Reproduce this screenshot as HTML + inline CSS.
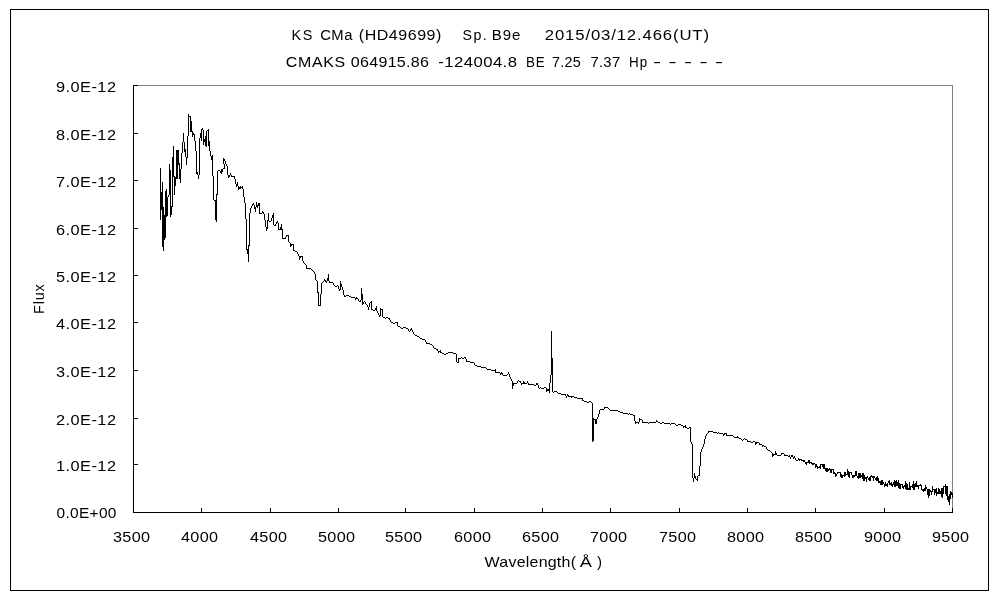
<!DOCTYPE html>
<html lang="ja"><head><meta charset="utf-8"><title>KS CMa spectrum</title>
<style>
html,body{margin:0;padding:0;background:#fff}
svg{display:block}
text{font-family:'Liberation Sans','IPAGothic',sans-serif;font-size:15.2px;fill:#000}
</style></head><body>
<svg width="1000" height="600" viewBox="0 0 1000 600">
<rect width="1000" height="600" fill="#fff"/>
<rect x="10.5" y="9.5" width="978" height="581" fill="#fff" stroke="#000" stroke-width="1" shape-rendering="crispEdges"/>
<path d="M138 85.5H952.5V508" fill="none" stroke="#808080" stroke-width="1" shape-rendering="crispEdges"/>
<path d="M133.5 85V512.5H953M133 512.5h5M133 464.5h5M133 418.5h5M133 370.5h5M133 322.5h5M133 275.5h5M133 228.5h5M133 180.5h5M133 133.5h5M133 85.5h5M133.5 513v-5M201.5 513v-5M270.5 513v-5M338.5 513v-5M405.5 513v-5M474.5 513v-5M542.5 513v-5M610.5 513v-5M679.5 513v-5M747.5 513v-5M815.5 513v-5M884.5 513v-5M952.5 513v-5" fill="none" stroke="#000" stroke-width="1" shape-rendering="crispEdges"/>
<text transform="translate(56.6 518) scale(1.017 1)" textLength="58.80" lengthAdjust="spacing">0.0E+00</text>
<text transform="translate(56 470.5) scale(1.076 1)" textLength="55.76" lengthAdjust="spacing">1.0E-12</text>
<text transform="translate(56 424.5) scale(1.076 1)" textLength="55.76" lengthAdjust="spacing">2.0E-12</text>
<text transform="translate(56 376.5) scale(1.076 1)" textLength="55.76" lengthAdjust="spacing">3.0E-12</text>
<text transform="translate(56 328.5) scale(1.076 1)" textLength="55.76" lengthAdjust="spacing">4.0E-12</text>
<text transform="translate(56 281.5) scale(1.076 1)" textLength="55.76" lengthAdjust="spacing">5.0E-12</text>
<text transform="translate(56 234.5) scale(1.076 1)" textLength="55.76" lengthAdjust="spacing">6.0E-12</text>
<text transform="translate(56 186.5) scale(1.076 1)" textLength="55.76" lengthAdjust="spacing">7.0E-12</text>
<text transform="translate(56 139.5) scale(1.076 1)" textLength="55.76" lengthAdjust="spacing">8.0E-12</text>
<text transform="translate(56 92) scale(1.076 1)" textLength="55.76" lengthAdjust="spacing">9.0E-12</text>
<text transform="translate(112.9 541.9) scale(1.068 1)" textLength="34.83" lengthAdjust="spacing">3500</text>
<text transform="translate(180.9 541.9) scale(1.068 1)" textLength="34.83" lengthAdjust="spacing">4000</text>
<text transform="translate(249.9 541.9) scale(1.068 1)" textLength="34.83" lengthAdjust="spacing">4500</text>
<text transform="translate(317.9 541.9) scale(1.068 1)" textLength="34.83" lengthAdjust="spacing">5000</text>
<text transform="translate(384.9 541.9) scale(1.068 1)" textLength="34.83" lengthAdjust="spacing">5500</text>
<text transform="translate(453.9 541.9) scale(1.068 1)" textLength="34.83" lengthAdjust="spacing">6000</text>
<text transform="translate(521.9 541.9) scale(1.068 1)" textLength="34.83" lengthAdjust="spacing">6500</text>
<text transform="translate(589.9 541.9) scale(1.068 1)" textLength="34.83" lengthAdjust="spacing">7000</text>
<text transform="translate(658.9 541.9) scale(1.068 1)" textLength="34.83" lengthAdjust="spacing">7500</text>
<text transform="translate(726.9 541.9) scale(1.068 1)" textLength="34.83" lengthAdjust="spacing">8000</text>
<text transform="translate(794.9 541.9) scale(1.068 1)" textLength="34.83" lengthAdjust="spacing">8500</text>
<text transform="translate(863.9 541.9) scale(1.068 1)" textLength="34.83" lengthAdjust="spacing">9000</text>
<text transform="translate(931.9 541.9) scale(1.068 1)" textLength="34.83" lengthAdjust="spacing">9500</text>
<text transform="translate(291.6 39.8) scale(0.948 1)" textLength="21.94" lengthAdjust="spacing">KS</text>
<text transform="translate(320.2 39.8) scale(0.974 1)" textLength="33.06" lengthAdjust="spacing">CMa</text>
<text transform="translate(358.8 39.8) scale(1.052 1)" textLength="78.52" lengthAdjust="spacing">(HD49699)</text>
<text transform="translate(462.6 39.8) scale(0.936 1)" textLength="25.64" lengthAdjust="spacing">Sp.</text>
<text transform="translate(491.8 39.8) scale(0.99 1)" textLength="28.89" lengthAdjust="spacing">B9e</text>
<text transform="translate(544.8 39.8) scale(1.1 1)" textLength="149.27" lengthAdjust="spacing">2015/03/12.466(UT)</text>
<text transform="translate(285.8 66.8) scale(1.049 1)" textLength="56.63" lengthAdjust="spacing" xml:space="preserve">CMAKS</text>
<text transform="translate(350.8 66.8) scale(1.057 1)" textLength="73.98" lengthAdjust="spacing" xml:space="preserve">064915.86</text>
<text transform="translate(438.2 66.8) scale(1.1 1)" textLength="71.64" lengthAdjust="spacing" xml:space="preserve">-124004.8</text>
<text transform="translate(526 66.8) scale(0.88 1)" textLength="21.14" lengthAdjust="spacing" xml:space="preserve">BE</text>
<text transform="translate(552 66.8) scale(0.945 1)" textLength="30.48" lengthAdjust="spacing" xml:space="preserve">7.25</text>
<text transform="translate(590.4 66.8) scale(0.978 1)" textLength="30.47" lengthAdjust="spacing" xml:space="preserve">7.37</text>
<text transform="translate(629 66.8) scale(0.88 1)" textLength="20.68" lengthAdjust="spacing" xml:space="preserve">Hp</text>
<text transform="translate(653 66.8) scale(1.6 1)" textLength="43.75" lengthAdjust="spacing" xml:space="preserve">- - - - -</text>
<text transform="translate(484.6 566.8) scale(1.052 1)" textLength="86.88" lengthAdjust="spacing">Wavelength(</text>
<text transform="translate(579.8 566.8) scale(1.197 1)" textLength="10.13" lengthAdjust="spacing">Å</text>
<text transform="translate(597 566.8)" textLength="4.90" lengthAdjust="spacing">)</text>
<text transform="translate(44.2 314) rotate(-90) scale(0.956 1)" textLength="31.17" lengthAdjust="spacing">Flux</text>
<path d="M160 168h1v52h-1zM161 192h1v18h-1zM162 182h1v65h-1zM163 207h1v44h-1zM164 215h1v25h-1zM165 191h1v47h-1zM166 189h1v28h-1zM167 197h1v19h-1zM168 195h1v2h-1zM169 164h1v31h-1zM170 170h1v47h-1zM171 206h1v9h-1zM172 157h1v50h-1zM173 146h1v31h-1zM174 176h1v19h-1zM175 177h1v9h-1zM176 150h1v29h-1zM177 150h1v29h-1zM178 150h1v15h-1zM179 163h1v16h-1zM180 169h1v14h-1zM181 153h1v16h-1zM182 142h1v11h-1zM183 133h1v9h-1zM184 142h1v10h-1zM185 149h1v8h-1zM186 157h1v8h-1zM187 136h1v22h-1zM188 114h1v22h-1zM189 116h1v1h-1zM190 116h1v16h-1zM191 121h1v11h-1zM192 131h1v6h-1zM193 133h1v2h-1zM194 134h1v7h-1zM195 141h1v10h-1zM196 151h1v23h-1zM197 172h1v3h-1zM198 175h1v4h-1zM199 138h1v37h-1zM200 133h1v5h-1zM201 129h1v12h-1zM202 128h1v2h-1zM203 130h1v15h-1zM204 139h1v3h-1zM205 136h1v10h-1zM206 131h1v16h-1zM207 130h1v1h-1zM208 129h1v17h-1zM209 141h1v10h-1zM210 151h1v5h-1zM211 156h1v4h-1zM212 155h1v21h-1zM213 176h1v24h-1zM214 200h1v1h-1zM215 200h1v20h-1zM216 194h1v28h-1zM217 171h1v24h-1zM218 170h1v1h-1zM219 170h1v1h-1zM220 171h1v2h-1zM221 169h1v5h-1zM222 169h1v3h-1zM223 158h1v6h-1zM223 168h1v1h-1zM224 159h1v2h-1zM224 164h1v5h-1zM225 161h1v3h-1zM226 164h1v2h-1zM227 166h1v9h-1zM228 175h1v3h-1zM229 175h1v2h-1zM230 173h1v2h-1zM231 175h1v2h-1zM232 176h1v1h-1zM233 176h1v1h-1zM234 176h1v3h-1zM235 179h1v5h-1zM236 184h1v3h-1zM237 182h1v4h-1zM238 186h1v4h-1zM239 187h1v2h-1zM240 186h1v3h-1zM241 187h1v1h-1zM242 186h1v3h-1zM243 189h1v8h-1zM244 197h1v6h-1zM245 203h1v16h-1zM246 219h1v31h-1zM247 249h1v5h-1zM248 245h1v17h-1zM249 213h1v33h-1zM250 208h1v5h-1zM251 206h1v2h-1zM252 204h1v2h-1zM253 203h1v2h-1zM254 205h1v4h-1zM255 207h1v5h-1zM256 202h1v5h-1zM257 205h1v3h-1zM258 203h1v3h-1zM259 203h1v11h-1zM260 213h1v1h-1zM261 213h1v1h-1zM262 211h1v2h-1zM263 212h1v2h-1zM264 214h1v6h-1zM265 220h1v7h-1zM266 227h1v4h-1zM267 220h1v9h-1zM268 213h1v8h-1zM269 221h1v1h-1zM270 221h1v1h-1zM271 218h1v3h-1zM272 215h1v3h-1zM273 213h1v12h-1zM274 225h1v1h-1zM275 224h1v2h-1zM276 222h1v2h-1zM277 221h1v2h-1zM278 223h1v7h-1zM279 229h1v1h-1zM280 227h1v3h-1zM281 224h1v6h-1zM282 229h1v10h-1zM283 238h1v1h-1zM284 238h1v1h-1zM285 237h1v2h-1zM286 235h1v2h-1zM287 235h1v1h-1zM288 235h1v7h-1zM289 242h1v1h-1zM290 243h1v4h-1zM291 244h1v2h-1zM292 244h1v1h-1zM293 244h1v7h-1zM294 250h1v1h-1zM295 251h1v1h-1zM296 251h1v1h-1zM297 252h1v2h-1zM298 254h1v2h-1zM299 256h1v4h-1zM300 256h1v2h-1zM301 256h1v1h-1zM302 256h1v5h-1zM303 261h1v2h-1zM304 263h1v1h-1zM305 264h1v1h-1zM306 265h1v4h-1zM307 268h1v1h-1zM308 268h1v1h-1zM309 268h1v1h-1zM310 268h1v1h-1zM311 269h1v1h-1zM312 270h1v1h-1zM313 271h1v1h-1zM314 272h1v2h-1zM315 274h1v6h-1zM316 280h1v1h-1zM317 281h1v12h-1zM318 292h1v14h-1zM319 305h1v1h-1zM320 294h1v12h-1zM321 283h1v11h-1zM322 282h1v1h-1zM323 281h1v1h-1zM324 279h1v2h-1zM325 280h1v2h-1zM326 281h1v2h-1zM327 278h1v3h-1zM328 274h1v7h-1zM329 281h1v2h-1zM330 282h1v1h-1zM331 282h1v1h-1zM332 282h1v1h-1zM333 283h1v2h-1zM334 285h1v1h-1zM335 286h1v1h-1zM336 286h1v1h-1zM337 285h1v1h-1zM338 286h1v3h-1zM339 289h1v2h-1zM340 281h1v9h-1zM341 284h1v3h-1zM342 287h1v3h-1zM343 290h1v5h-1zM344 295h1v2h-1zM345 296h1v1h-1zM346 295h1v1h-1zM347 295h1v1h-1zM348 295h1v1h-1zM349 296h1v1h-1zM350 296h1v1h-1zM351 297h1v1h-1zM352 297h1v1h-1zM353 297h1v1h-1zM354 297h1v1h-1zM355 298h1v2h-1zM356 297h1v2h-1zM357 298h1v1h-1zM358 299h1v2h-1zM359 301h1v1h-1zM360 300h1v2h-1zM361 288h1v12h-1zM362 294h1v11h-1zM363 302h1v2h-1zM364 301h1v1h-1zM365 302h1v2h-1zM366 304h1v1h-1zM367 305h1v2h-1zM368 307h1v3h-1zM369 303h1v4h-1zM370 302h1v1h-1zM371 301h1v9h-1zM372 309h1v1h-1zM373 310h1v1h-1zM374 310h1v1h-1zM375 308h1v2h-1zM376 306h1v5h-1zM377 311h1v2h-1zM378 313h1v2h-1zM379 315h1v2h-1zM380 308h1v8h-1zM381 309h1v1h-1zM382 309h1v8h-1zM383 317h1v1h-1zM384 317h1v1h-1zM385 318h1v1h-1zM386 317h1v1h-1zM387 317h1v1h-1zM388 318h1v1h-1zM389 318h1v2h-1zM390 320h1v2h-1zM391 322h1v1h-1zM392 322h1v1h-1zM393 323h1v1h-1zM394 323h1v1h-1zM395 322h1v1h-1zM396 322h1v1h-1zM397 322h1v4h-1zM398 326h1v1h-1zM399 326h1v1h-1zM400 327h1v1h-1zM401 328h1v1h-1zM402 328h1v1h-1zM403 327h1v1h-1zM404 327h1v1h-1zM405 327h1v1h-1zM406 328h1v1h-1zM407 328h1v1h-1zM408 329h1v2h-1zM409 331h1v1h-1zM410 329h1v2h-1zM411 328h1v2h-1zM412 330h1v2h-1zM413 332h1v2h-1zM414 334h1v1h-1zM415 335h1v1h-1zM416 335h1v1h-1zM417 336h1v1h-1zM418 336h1v1h-1zM419 337h1v1h-1zM420 338h1v1h-1zM421 338h1v1h-1zM422 339h1v1h-1zM423 339h1v1h-1zM424 339h1v1h-1zM425 340h1v2h-1zM426 342h1v2h-1zM427 343h1v1h-1zM428 343h1v1h-1zM429 343h1v1h-1zM430 344h1v1h-1zM431 344h1v1h-1zM432 345h1v1h-1zM433 346h1v2h-1zM434 348h1v1h-1zM435 348h1v1h-1zM436 349h1v1h-1zM437 349h1v2h-1zM438 351h1v2h-1zM439 351h1v1h-1zM440 350h1v3h-1zM441 352h1v1h-1zM442 353h1v1h-1zM443 353h1v1h-1zM444 354h1v1h-1zM445 354h1v1h-1zM446 353h1v1h-1zM447 353h1v1h-1zM448 352h1v1h-1zM449 352h1v1h-1zM450 352h1v1h-1zM451 352h1v1h-1zM452 352h1v1h-1zM453 353h1v1h-1zM454 353h1v1h-1zM455 353h1v1h-1zM456 354h1v8h-1zM457 362h1v1h-1zM458 358h1v5h-1zM459 358h1v1h-1zM460 358h1v1h-1zM461 357h1v1h-1zM462 358h1v1h-1zM463 358h1v1h-1zM464 357h1v1h-1zM465 357h1v2h-1zM466 359h1v3h-1zM467 361h1v1h-1zM468 361h1v1h-1zM469 361h1v1h-1zM470 362h1v1h-1zM471 362h1v1h-1zM472 362h1v1h-1zM473 362h1v1h-1zM474 363h1v2h-1zM475 365h1v1h-1zM476 365h1v1h-1zM477 366h1v1h-1zM478 366h1v1h-1zM479 366h1v1h-1zM480 366h1v1h-1zM481 367h1v1h-1zM482 367h1v1h-1zM483 367h1v1h-1zM484 367h1v1h-1zM485 367h1v1h-1zM486 368h1v1h-1zM487 369h1v1h-1zM488 369h1v1h-1zM489 369h1v1h-1zM490 369h1v1h-1zM491 370h1v1h-1zM492 370h1v1h-1zM493 370h1v1h-1zM494 370h1v1h-1zM495 369h1v4h-1zM496 372h1v1h-1zM497 372h1v1h-1zM498 372h1v1h-1zM499 372h1v1h-1zM500 373h1v2h-1zM501 372h1v2h-1zM502 373h1v2h-1zM503 375h1v1h-1zM504 375h1v1h-1zM505 375h1v1h-1zM506 375h1v1h-1zM507 374h1v1h-1zM508 372h1v2h-1zM509 374h1v3h-1zM510 377h1v2h-1zM511 379h1v2h-1zM512 381h1v8h-1zM513 383h1v3h-1zM514 383h1v1h-1zM515 383h1v1h-1zM516 383h1v1h-1zM517 381h1v2h-1zM518 380h1v1h-1zM519 381h1v1h-1zM520 381h1v2h-1zM521 383h1v2h-1zM522 383h1v1h-1zM523 381h1v3h-1zM524 382h1v2h-1zM525 383h1v1h-1zM526 383h1v1h-1zM527 381h1v2h-1zM528 383h1v2h-1zM529 384h1v1h-1zM530 384h1v1h-1zM531 384h1v1h-1zM532 384h1v1h-1zM533 384h1v1h-1zM534 385h1v1h-1zM535 385h1v1h-1zM536 383h1v2h-1zM537 383h1v2h-1zM538 385h1v3h-1zM539 388h1v1h-1zM540 387h1v1h-1zM541 388h1v1h-1zM542 388h1v1h-1zM543 388h1v1h-1zM544 387h1v1h-1zM545 387h1v1h-1zM546 388h1v4h-1zM547 389h1v2h-1zM548 389h1v2h-1zM549 383h1v10h-1zM550 375h1v8h-1zM551 331h1v44h-1zM552 358h1v34h-1zM553 392h1v1h-1zM554 391h1v1h-1zM555 391h1v1h-1zM556 391h1v1h-1zM557 392h1v1h-1zM558 393h1v1h-1zM559 393h1v1h-1zM560 393h1v1h-1zM561 394h1v1h-1zM562 394h1v1h-1zM563 394h1v1h-1zM564 394h1v1h-1zM565 394h1v2h-1zM566 396h1v2h-1zM567 394h1v2h-1zM568 395h1v2h-1zM569 396h1v1h-1zM570 396h1v1h-1zM571 396h1v2h-1zM572 396h1v1h-1zM573 396h1v1h-1zM574 397h1v1h-1zM575 397h1v1h-1zM576 397h1v1h-1zM577 398h1v1h-1zM578 398h1v1h-1zM579 398h1v1h-1zM580 398h1v1h-1zM581 398h1v1h-1zM582 398h1v3h-1zM583 400h1v1h-1zM584 401h1v1h-1zM585 401h1v1h-1zM586 401h1v1h-1zM587 402h1v1h-1zM588 402h1v1h-1zM589 401h1v1h-1zM590 401h1v1h-1zM591 402h1v1h-1zM592 403h1v39h-1zM593 418h1v23h-1zM594 419h1v1h-1zM595 419h1v5h-1zM596 419h1v5h-1zM597 417h1v2h-1zM598 414h1v3h-1zM599 410h1v4h-1zM600 409h1v1h-1zM601 409h1v1h-1zM602 409h1v1h-1zM603 409h1v1h-1zM604 407h1v2h-1zM605 407h1v1h-1zM606 407h1v1h-1zM607 407h1v1h-1zM608 408h1v1h-1zM609 409h1v1h-1zM610 410h1v1h-1zM611 410h1v1h-1zM612 410h1v1h-1zM613 410h1v1h-1zM614 410h1v1h-1zM615 410h1v1h-1zM616 410h1v1h-1zM617 410h1v1h-1zM618 411h1v1h-1zM619 411h1v1h-1zM620 412h1v1h-1zM621 412h1v1h-1zM622 412h1v1h-1zM623 413h1v1h-1zM624 413h1v1h-1zM625 413h1v1h-1zM626 413h1v1h-1zM627 413h1v1h-1zM628 414h1v1h-1zM629 413h1v1h-1zM630 414h1v1h-1zM631 414h1v1h-1zM632 414h1v1h-1zM633 415h1v1h-1zM634 415h1v6h-1zM635 421h1v3h-1zM636 422h1v1h-1zM637 422h1v1h-1zM638 422h1v2h-1zM639 418h1v4h-1zM640 419h1v1h-1zM641 419h1v1h-1zM642 420h1v3h-1zM643 422h1v1h-1zM644 422h1v1h-1zM645 422h1v1h-1zM646 422h1v1h-1zM647 422h1v1h-1zM648 423h1v1h-1zM649 422h1v1h-1zM650 422h1v1h-1zM651 422h1v1h-1zM652 422h1v1h-1zM653 422h1v1h-1zM654 422h1v1h-1zM655 422h1v1h-1zM656 420h1v2h-1zM657 421h1v1h-1zM658 422h1v1h-1zM659 422h1v1h-1zM660 423h1v1h-1zM661 423h1v1h-1zM662 422h1v1h-1zM663 422h1v1h-1zM664 423h1v1h-1zM665 423h1v1h-1zM666 423h1v1h-1zM667 423h1v1h-1zM668 423h1v1h-1zM669 423h1v1h-1zM670 424h1v1h-1zM671 423h1v1h-1zM672 423h1v1h-1zM673 423h1v1h-1zM674 423h1v1h-1zM675 424h1v1h-1zM676 425h1v1h-1zM677 425h1v1h-1zM678 424h1v1h-1zM679 424h1v1h-1zM680 424h1v1h-1zM681 425h1v1h-1zM682 425h1v1h-1zM683 426h1v2h-1zM684 426h1v1h-1zM685 425h1v3h-1zM686 427h1v1h-1zM687 428h1v1h-1zM688 428h1v1h-1zM689 427h1v1h-1zM690 427h1v15h-1zM691 442h1v2h-1zM692 444h1v34h-1zM693 478h1v4h-1zM694 473h1v5h-1zM695 476h1v3h-1zM696 479h1v1h-1zM697 476h1v5h-1zM698 475h1v1h-1zM699 466h1v10h-1zM700 452h1v14h-1zM701 449h1v3h-1zM702 447h1v2h-1zM703 444h1v3h-1zM704 439h1v5h-1zM705 436h1v3h-1zM706 434h1v2h-1zM707 433h1v1h-1zM708 431h1v2h-1zM709 431h1v1h-1zM710 431h1v1h-1zM711 431h1v1h-1zM712 431h1v1h-1zM713 432h1v1h-1zM714 432h1v1h-1zM715 432h1v1h-1zM716 432h1v1h-1zM717 433h1v1h-1zM718 432h1v1h-1zM719 433h1v1h-1zM720 433h1v1h-1zM721 433h1v1h-1zM722 433h1v1h-1zM723 434h1v2h-1zM724 433h1v2h-1zM725 433h1v1h-1zM726 433h1v3h-1zM727 435h1v1h-1zM728 435h1v1h-1zM729 435h1v1h-1zM730 435h1v1h-1zM731 435h1v1h-1zM732 435h1v1h-1zM733 436h1v1h-1zM734 437h1v1h-1zM735 437h1v1h-1zM736 437h1v1h-1zM737 436h1v2h-1zM738 437h1v1h-1zM739 438h1v1h-1zM740 438h1v1h-1zM741 439h1v1h-1zM742 440h1v1h-1zM743 439h1v1h-1zM744 438h1v1h-1zM745 439h1v1h-1zM746 439h1v1h-1zM747 440h1v2h-1zM748 441h1v1h-1zM749 441h1v1h-1zM750 441h1v1h-1zM751 442h1v1h-1zM752 442h1v1h-1zM753 441h1v1h-1zM754 441h1v1h-1zM755 442h1v3h-1zM756 442h1v2h-1zM757 442h1v1h-1zM758 442h1v1h-1zM759 443h1v2h-1zM760 444h1v1h-1zM761 444h1v1h-1zM762 445h1v2h-1zM763 445h1v1h-1zM764 446h1v1h-1zM765 446h1v1h-1zM766 447h1v2h-1zM767 449h1v1h-1zM768 450h1v1h-1zM769 450h1v1h-1zM770 451h1v1h-1zM771 452h1v1h-1zM772 453h1v4h-1zM773 454h1v2h-1zM774 454h1v1h-1zM775 451h1v4h-1zM776 453h1v2h-1zM777 455h1v1h-1zM778 455h1v1h-1zM779 455h1v1h-1zM780 455h1v1h-1zM781 453h1v2h-1zM782 453h1v1h-1zM783 453h1v1h-1zM784 454h1v2h-1zM785 455h1v1h-1zM786 455h1v1h-1zM787 455h1v1h-1zM788 456h1v1h-1zM789 455h1v2h-1zM790 457h1v2h-1zM791 455h1v2h-1zM792 455h1v2h-1zM793 457h1v2h-1zM794 456h1v2h-1zM795 458h1v2h-1zM796 460h1v1h-1zM797 460h1v1h-1zM798 458h1v2h-1zM799 459h1v2h-1zM800 459h1v1h-1zM801 459h1v2h-1zM802 460h1v1h-1zM803 460h1v2h-1zM804 460h1v2h-1zM805 462h1v2h-1zM806 462h1v3h-1zM807 462h1v1h-1zM808 460h1v3h-1zM809 460h1v4h-1zM810 462h1v1h-1zM811 462h1v2h-1zM812 463h1v2h-1zM813 463h1v2h-1zM814 463h1v1h-1zM815 464h1v4h-1zM816 464h1v3h-1zM817 466h1v3h-1zM818 467h1v1h-1zM819 466h1v2h-1zM820 464h1v5h-1zM821 464h1v1h-1zM822 464h1v3h-1zM823 464h1v5h-1zM824 464h1v5h-1zM825 468h1v3h-1zM826 468h1v4h-1zM827 468h1v4h-1zM828 469h1v2h-1zM829 468h1v2h-1zM830 469h1v4h-1zM831 469h1v4h-1zM832 469h1v1h-1zM833 469h1v5h-1zM834 472h1v2h-1zM835 473h1v4h-1zM836 474h1v2h-1zM837 472h1v2h-1zM838 472h1v1h-1zM839 472h1v1h-1zM840 472h1v5h-1zM841 474h1v4h-1zM842 475h1v3h-1zM843 475h1v1h-1zM844 472h1v5h-1zM845 472h1v4h-1zM846 474h1v1h-1zM847 469h1v6h-1zM848 471h1v6h-1zM849 472h1v6h-1zM850 472h1v1h-1zM851 472h1v3h-1zM852 475h1v3h-1zM853 475h1v3h-1zM854 475h1v2h-1zM855 471h1v5h-1zM856 471h1v5h-1zM857 476h1v2h-1zM858 473h1v6h-1zM859 473h1v5h-1zM860 473h1v5h-1zM861 475h1v2h-1zM862 473h1v6h-1zM863 473h1v8h-1zM864 475h1v6h-1zM865 477h1v2h-1zM866 477h1v5h-1zM867 476h1v2h-1zM868 478h1v2h-1zM869 477h1v4h-1zM870 476h1v5h-1zM871 475h1v2h-1zM872 476h1v2h-1zM873 476h1v5h-1zM874 476h1v2h-1zM875 478h1v2h-1zM876 477h1v4h-1zM877 476h1v5h-1zM878 478h1v5h-1zM879 481h1v2h-1zM880 481h1v4h-1zM881 480h1v5h-1zM882 480h1v5h-1zM883 482h1v2h-1zM884 484h1v3h-1zM885 482h1v4h-1zM886 484h1v2h-1zM887 483h1v4h-1zM888 481h1v2h-1zM889 480h1v5h-1zM890 483h1v2h-1zM891 482h1v4h-1zM892 484h1v3h-1zM893 482h1v3h-1zM894 480h1v7h-1zM895 481h1v6h-1zM896 480h1v6h-1zM897 482h1v4h-1zM898 480h1v8h-1zM899 483h1v6h-1zM900 484h1v5h-1zM901 484h1v1h-1zM902 484h1v4h-1zM903 486h1v3h-1zM904 485h1v2h-1zM905 481h1v8h-1zM906 483h1v7h-1zM907 484h1v6h-1zM908 488h1v2h-1zM909 482h1v8h-1zM910 486h1v4h-1zM911 486h1v1h-1zM912 484h1v4h-1zM913 481h1v9h-1zM914 484h1v6h-1zM915 483h1v4h-1zM916 481h1v6h-1zM917 485h1v2h-1zM918 485h1v4h-1zM919 485h1v1h-1zM920 484h1v2h-1zM921 485h1v5h-1zM922 489h1v2h-1zM923 489h1v3h-1zM924 488h1v3h-1zM925 485h1v6h-1zM926 487h1v2h-1zM927 489h1v6h-1zM928 489h1v9h-1zM929 489h1v7h-1zM930 490h1v2h-1zM931 491h1v4h-1zM932 486h1v6h-1zM933 489h1v1h-1zM934 489h1v6h-1zM935 489h1v4h-1zM936 488h1v8h-1zM937 492h1v2h-1zM938 488h1v6h-1zM939 489h1v5h-1zM940 491h1v3h-1zM941 488h1v9h-1zM942 488h1v10h-1zM943 486h1v8h-1zM944 486h1v1h-1zM945 484h1v10h-1zM946 486h1v10h-1zM947 486h1v14h-1zM948 496h1v6h-1zM949 494h1v11h-1zM950 491h1v8h-1zM951 492h1v3h-1zM952 493h1v5h-1z" fill="#000" shape-rendering="crispEdges"/>
</svg>
</body></html>
